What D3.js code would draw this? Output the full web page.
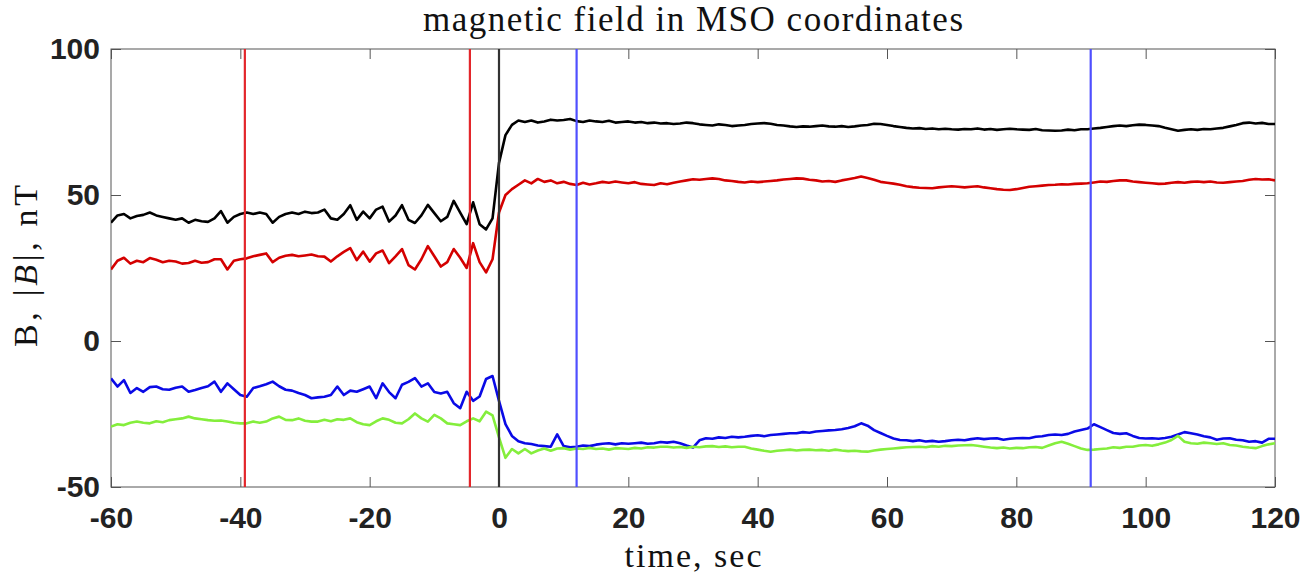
<!DOCTYPE html>
<html>
<head>
<meta charset="utf-8">
<title>magnetic field in MSO coordinates</title>
<script src="https://d3js.org/d3.v7.min.js"></script>
<style>
  body { margin: 0; background: #fff; }
  .tick text { font-family: "Liberation Sans", Arial, sans-serif; font-weight: bold; font-size: 30px; fill: #222; }
  .tick line { stroke: #555; stroke-width: 1; }
  .serif { font-family: "Liberation Serif", "Times New Roman", serif; fill: #111; }
</style>
</head>
<body>
<div id="chart"></div>
<script>
// time axis, one sample per second
const timeSec = d3.range(-60, 121);

// |B|
const bTotal = [
  40.5, 43, 43.5, 42, 42.8, 43.2, 44, 43, 42.5, 42,
  41.5, 42, 40.5, 41.5, 41, 40.8, 42, 44.5, 40.5, 42.5,
  43.5, 44, 43.5, 44, 43.5, 40.5, 42.5, 43.5, 44, 43.5,
  44.3, 43.8, 44, 45, 42, 41.5, 43.5, 46.5, 41.5, 44.3,
  42, 45, 46, 40.9, 43, 46.5, 41.5, 40.4, 43, 46.6,
  43.8, 41, 42.5, 48, 44, 40, 47.5, 40, 38.2, 42,
  61, 70.5, 74, 75.5, 75, 75.5, 74.8, 75.2, 75.8, 75.5,
  75.7, 76, 75.3, 75, 75.5, 75.2, 75, 75.4, 74.8, 75,
  75.2, 74.8, 75, 74.6, 74.8, 74.5, 74.6, 74.3, 74.5, 74.8,
  74.6, 74.2, 74, 73.8, 74.2, 74, 73.6, 73.8, 74, 74.3,
  74.5, 74.6, 74.4, 74, 73.8, 73.5, 73.3, 73.5, 73.4, 73.6,
  73.8, 73.5, 73.4, 73.6, 73.3, 73.5, 73.8, 74, 74.4, 74.3,
  74, 73.6, 73.3, 73, 72.8, 72.9, 72.6, 72.8, 72.5, 72.7,
  72.5, 72.4, 72.6, 72.5, 72.8, 72.4, 72.6, 72.3, 72.5, 72.7,
  72.5, 72.4, 72.3, 72.6, 72.2, 72.1, 72, 72.1, 72.4, 72.2,
  72.5, 72.5, 72.8, 73, 73.3, 73.6, 73.8, 73.6, 73.9, 74.1,
  74, 73.8, 73.6, 73, 72.5, 72, 72.3, 72.5, 72.3, 72.6,
  72.5, 72.8, 73, 73.5, 74, 74.6, 74.8, 74.5, 74.7, 74.3,
  74.3
];

// Bx (red)
const bX = [
  24.5, 27.5, 28.5, 26.5, 27.5, 27, 28.4, 27.8, 27, 27.5,
  27.2, 26.5, 26.7, 27.5, 26.8, 27, 28, 28, 24.5, 27.5,
  28, 28.3, 29, 29.5, 30, 27, 28.5, 29.2, 29.5, 29,
  29.3, 29.6, 29, 28.9, 27.2, 29, 30.5, 31.8, 27.7, 30.6,
  27.2, 30, 31, 26.7, 29, 31.5, 26, 24.5, 28, 32.5,
  29, 25.5, 27, 31.5, 28.5, 25, 33.5, 27, 23.5, 28,
  44, 50, 52, 53.5, 55, 54, 55.5, 54.5, 55, 54,
  54.5, 53.8, 53.4, 54.2, 53.6, 54, 54.5, 54.2, 54.6, 54.3,
  54, 54.4, 53.8, 53.6, 53.4, 54, 53.7, 54.2, 54.6, 55,
  55.4, 55.2, 55.5, 55.7, 55.5, 55, 54.8, 54.5, 54.3, 54.6,
  54.4, 54.6, 54.8, 55, 55.3, 55.5, 55.7, 55.6, 55.2, 55,
  54.6, 54.8, 54.5, 55, 55.4, 55.8, 56.3, 55.8, 55.2, 54.5,
  54.2, 53.9, 53.5, 53, 52.7, 52.5, 52.4, 52.3, 52.6, 52.8,
  53, 52.8, 52.6, 52.8, 53, 52.6, 52.3, 52, 51.8, 51.7,
  52, 52.4, 52.8, 53, 53.2, 53.4, 53.5, 53.7, 53.6, 53.8,
  53.9, 54, 54.3, 54.6, 54.5, 54.8, 55, 55, 54.6, 54.4,
  54.2, 54, 53.8, 53.9, 54.2, 54.4, 54.2, 54.5, 54.6, 54.4,
  54.6, 54.3, 54.2, 54.4, 54.6, 54.8, 55.2, 55.5, 55.3, 55.4,
  55
];

// By (blue)
const bY = [
  -12.8, -15.6, -13.4, -17.8, -16.1, -17.4, -15.8, -15.6, -16.5, -16.7,
  -16, -15.6, -17.4, -16.8, -16.1, -15.5, -13.9, -17.4, -14.5, -16.5,
  -18.5, -19.1, -16.1, -15.5, -14.8, -13.9, -15.5, -16.7, -17, -17.8,
  -18.5, -19.6, -19.3, -19.1, -18.5, -15.6, -18.5, -17, -17.4, -16.5,
  -15.6, -19.6, -14.5, -17.5, -19.6, -15, -14, -12.7, -15.6, -14.5,
  -17.5, -18, -17.4, -21.3, -23, -17.4, -20.5, -19, -13, -12,
  -20.5, -28.5, -32.5, -34.3, -35, -35.3, -35.8, -36, -36.2, -32,
  -36, -36.4, -36.2, -35.8, -36, -35.5, -35.2, -35, -35.4, -35,
  -35.2, -35, -34.8, -35.2, -35, -34.6, -34.8, -34.5, -35, -35.8,
  -36.5, -34, -33.3, -33.5, -33, -33.2, -32.8, -33, -32.8, -32.5,
  -32.3, -32.6, -32.2, -32, -31.8, -31.6, -31.6, -31.2, -31.4, -31,
  -30.8, -30.6, -30.5, -30.2, -29.8, -29.2, -28.2, -29, -30.5, -31.5,
  -32.5, -33.4, -33.9, -34, -34.3, -34, -34.4, -34.2, -34.5, -34.3,
  -34, -33.8, -34, -33.6, -33.3, -33.6, -33.4, -33.3, -33.8, -33.5,
  -33.3, -33.2, -33.3, -32.8, -32.6, -32.2, -32, -32.2, -31.8, -31,
  -30.5, -30, -28.5, -29.5, -30.5, -31.5, -31.8, -31.6, -32.5, -33.2,
  -33.4, -33.3, -33.5, -33.2, -32.8, -32, -31.2, -31.6, -32, -32.6,
  -33, -33.8, -33.4, -33.3, -33.8, -34, -34.5, -34.3, -34.8, -33.5,
  -33.5
];

// Bz (green)
const bZ = [
  -29.3, -28.5, -28.8, -28, -27.6, -28, -28.2, -27.5, -27.8, -27.1,
  -26.8, -26.5, -25.9, -26.5, -26.8, -27.1, -27.3, -27.2, -27.6, -28,
  -28.2, -28.2, -27.6, -28, -27.6, -26.5, -25.9, -27, -27.1, -26.5,
  -27.3, -27.6, -27.6, -27, -27.5, -26.8, -27, -26.5, -27.8, -28.5,
  -28.8, -27.5, -26.5, -27, -28, -28.2, -26.8, -24.8, -26.5, -27.6,
  -25.3, -26.5, -28.2, -28.5, -28.8, -27.5, -26.5, -27.5, -24.2, -25.5,
  -33, -40, -37, -38.5, -37, -38.5, -37.5, -36.8, -37.6, -36.8,
  -36.7, -37.2, -36.8, -37, -36.6, -37, -36.8, -37.2, -36.7, -36.8,
  -37, -36.6, -36.8, -36.4, -36.5, -36.2, -36.2, -36.5, -36.3, -36.6,
  -36.2, -36.4, -36.1, -36, -36.3, -36.1, -36.4, -36.2, -36.2, -36.8,
  -37.2, -37.6, -37.9, -37.6, -37.4, -37.2, -37.5, -37.3, -37.2, -37.4,
  -37.3, -37.6, -37.2, -37.5, -37.7, -37.6, -37.8, -37.9, -37.5, -37.2,
  -37, -36.8, -36.6, -36.4, -36.3, -36.2, -36.4, -36, -36.2, -35.9,
  -36, -35.8, -35.7, -35.6, -35.9, -36.2, -36.5, -36.7, -36.5, -36.8,
  -36.6, -36.7, -36.4, -36.3, -36.6, -35.8, -35, -34.5, -35.2, -36,
  -36.8, -37.3, -37.2, -37, -36.8, -36.4, -36.6, -36.2, -36.2, -35.8,
  -35.6, -35.9, -35.4, -34.8, -33.9, -32.5, -34.5, -35, -35.2, -34.8,
  -35, -35.3, -35, -35.6, -35.8, -36.2, -36.5, -36.7, -36, -35.4,
  -35
];

// vertical markers (sec)
const markerTimes = [-39.3, -4.5, 0, 12, 91.5];
const markerColors = ["#e3262b", "#e3262b", "#333333", "#4f4fff", "#4f4fff"];

const xTicks = [-60, -40, -20, 0, 20, 40, 60, 80, 100, 120];
const yTicks = [-50, 0, 50, 100];

const W = 1304, H = 577;
const margin = { top: 49, right: 29, bottom: 90, left: 111 };
const width = W - margin.left - margin.right;
const height = H - margin.top - margin.bottom;

const svg = d3.select("#chart").append("svg")
  .attr("width", W)
  .attr("height", H);

const g = svg.append("g")
  .attr("transform", `translate(${margin.left},${margin.top})`);

const x = d3.scaleLinear().domain([-60, 120]).range([0, width]);
const y = d3.scaleLinear().domain([-50, 100]).range([height, 0]);

svg.append("defs").append("clipPath").attr("id", "clip")
  .append("rect").attr("width", width).attr("height", height);

// axes with inward ticks
const fmt = d => String(d);
g.append("g").attr("transform", `translate(0,${height})`)
  .call(d3.axisBottom(x).tickValues(xTicks).tickFormat(fmt).tickSizeInner(-10).tickSizeOuter(0).tickPadding(20));
g.append("g")
  .call(d3.axisTop(x).tickValues(xTicks).tickFormat("").tickSizeInner(-10).tickSizeOuter(0));
g.append("g")
  .call(d3.axisLeft(y).tickValues(yTicks).tickFormat(fmt).tickSizeInner(-10).tickSizeOuter(0).tickPadding(11));
g.append("g").attr("transform", `translate(${width},0)`)
  .call(d3.axisRight(y).tickValues(yTicks).tickFormat("").tickSizeInner(-10).tickSizeOuter(0));
g.selectAll(".domain").remove();

// frame
g.append("rect")
  .attr("width", width).attr("height", height)
  .attr("fill", "none").attr("stroke", "#555").attr("stroke-width", 1);

// series
const series = [
  { values: bTotal, color: "#000000" },
  { values: bX, color: "#d40000" },
  { values: bY, color: "#0a0ae6" },
  { values: bZ, color: "#84ee3c" }
];
const line = d3.line()
  .x((d, i) => x(timeSec[i]))
  .y(d => y(d));

const plot = g.append("g").attr("clip-path", "url(#clip)");
series.forEach(s => {
  plot.append("path")
    .datum(s.values)
    .attr("d", line)
    .attr("fill", "none")
    .attr("stroke", s.color)
    .attr("stroke-width", 2.6)
    .attr("stroke-linejoin", "round");
});

// marker lines
markerTimes.forEach((t, i) => {
  plot.append("line")
    .attr("x1", x(t)).attr("x2", x(t))
    .attr("y1", 0).attr("y2", height)
    .attr("stroke", markerColors[i])
    .attr("stroke-width", 2.2);
});

// title and labels
svg.append("text").attr("class", "serif")
  .attr("x", margin.left + width / 2).attr("y", 31)
  .attr("text-anchor", "middle")
  .attr("font-size", 35)
  .attr("textLength", 540).attr("lengthAdjust", "spacing")
  .text("magnetic field in MSO coordinates");

svg.append("text").attr("class", "serif")
  .attr("x", margin.left + width / 2).attr("y", 567)
  .attr("text-anchor", "middle")
  .attr("font-size", 34)
  .attr("textLength", 137).attr("lengthAdjust", "spacing")
  .text("time, sec");

const yl = svg.append("text").attr("class", "serif")
  .attr("transform", "translate(37,266) rotate(-90)")
  .attr("text-anchor", "middle")
  .attr("font-size", 34)
  .attr("textLength", 162).attr("lengthAdjust", "spacing");
yl.append("tspan").text("B, |");
yl.append("tspan").attr("font-style", "italic").text("B");
yl.append("tspan").text("|, nT");
</script>
</body>
</html>
